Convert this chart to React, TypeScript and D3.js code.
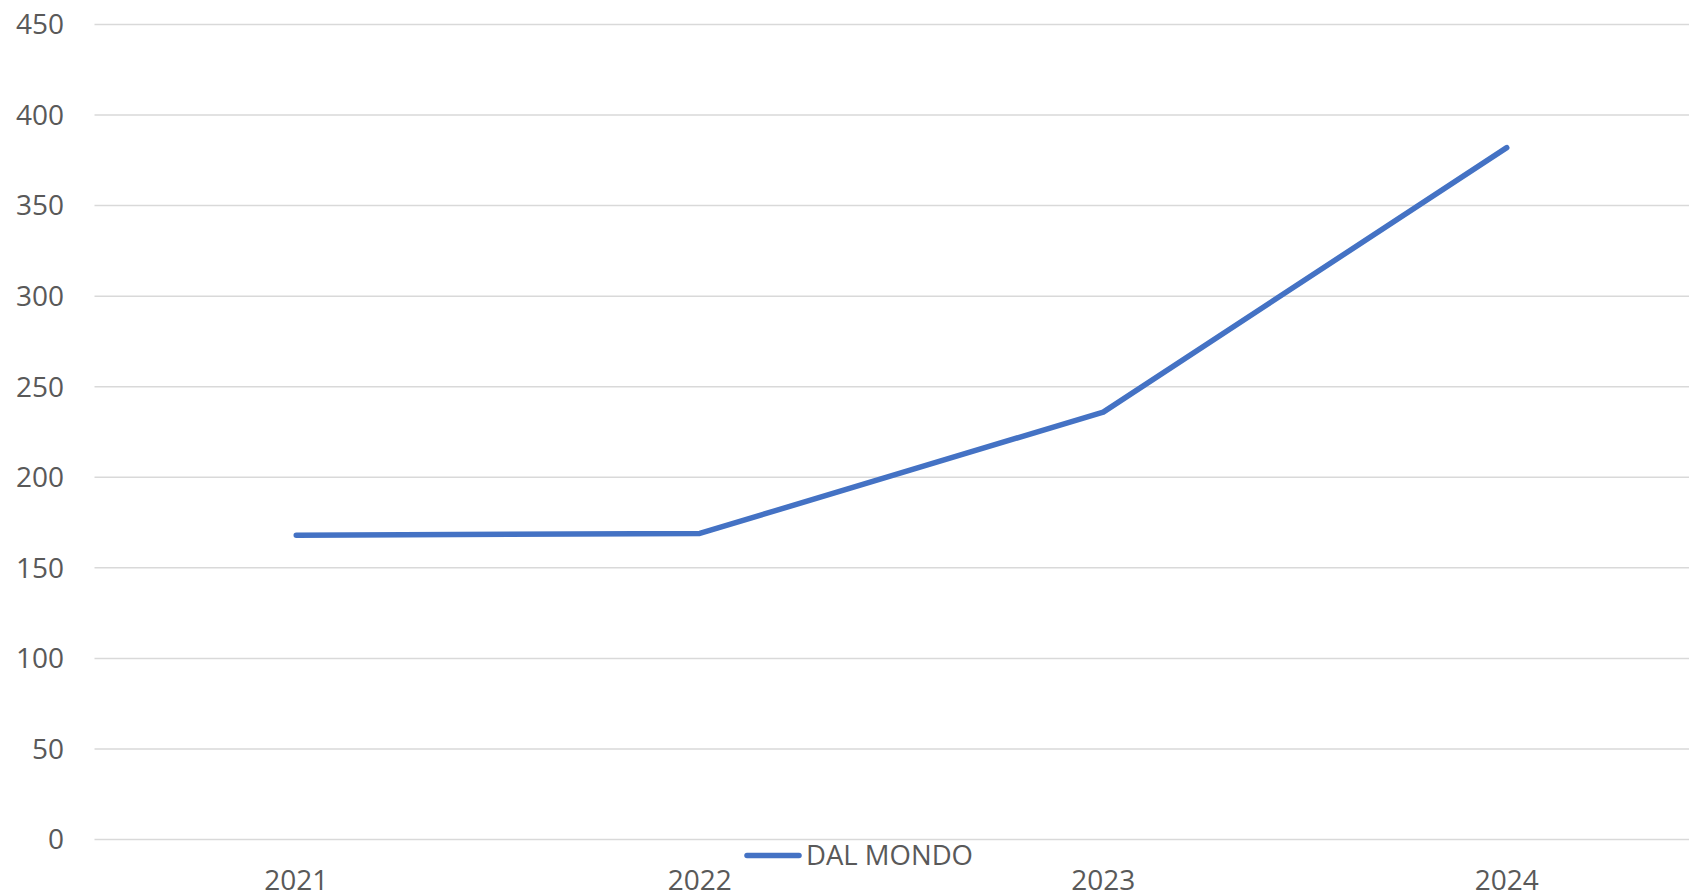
import React from "react";
import * as d3 from "d3";

const categories = ["2021", "2022", "2023", "2024"];
const seriesName = "DAL MONDO";
const values = [168, 169, 236, 382];
const yTicks = [0, 50, 100, 150, 200, 250, 300, 350, 400, 450];

const W = 1689;
const H = 894;
const plotLeft = 94.5;
const band = 403.5;
const plotTop = 24.5;
const plotBottom = 839.5;
const FONT = "'Open Sans', 'Liberation Sans', sans-serif";
const TEXT = "#595959";
const LINE = "#4472C4";

export default function App() {
  const x = d3
    .scaleBand<string>()
    .domain(categories)
    .range([plotLeft, plotLeft + band * categories.length]);
  const y = d3.scaleLinear().domain([0, 450]).range([plotBottom, plotTop]);
  const cx = (c: string) => (x(c) as number) + x.bandwidth() / 2;
  const line = d3
    .line<number>()
    .x((_, i) => cx(categories[i]))
    .y((d) => y(d));

  return (
    <svg
      width={W}
      height={H}
      style={{ position: "fixed", left: 0, top: 0, background: "#fff" }}
      fontFamily={FONT}
    >
      <rect x={0} y={0} width={W} height={H} fill="#fff" />
      {yTicks.map((t) => (
        <g key={t}>
          <line x1={plotLeft} x2={W} y1={y(t)} y2={y(t)} stroke="#d9d9d9" strokeWidth={1.5} />
          <text x={64} y={y(t)} dy="0.35em" textAnchor="end" fontSize={28} fill={TEXT}>
            {t}
          </text>
        </g>
      ))}
      {categories.map((c) => (
        <text key={c} x={cx(c)} y={880} dy="0.35em" textAnchor="middle" fontSize={28} fill={TEXT}>
          {c}
        </text>
      ))}
      <path
        d={line(values) || ""}
        fill="none"
        stroke={LINE}
        strokeWidth={5.5}
        strokeLinecap="round"
        strokeLinejoin="round"
      />
      <line x1={747} x2={799} y1={855.5} y2={855.5} stroke={LINE} strokeWidth={5.5} strokeLinecap="round" />
      <text x={806} y={855} dy="0.35em" fontSize={27.5} fill={TEXT}>
        {seriesName}
      </text>
    </svg>
  );
}
